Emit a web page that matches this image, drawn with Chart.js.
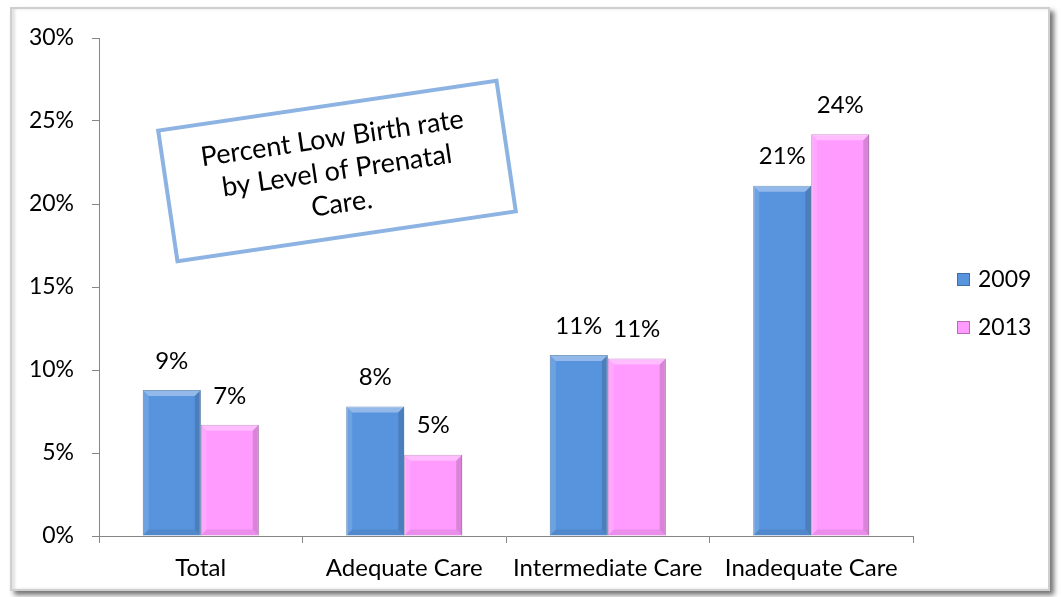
<!DOCTYPE html>
<html>
<head>
<meta charset="utf-8">
<script src="https://cdn.jsdelivr.net/npm/chart.js@4"></script>
<style>
  body { margin: 0; background: #fff; }
  #frame {
    position: absolute; left: 10px; top: 7px; width: 1036px; height: 580px;
    border: 2px solid #cfcfcf;
    box-shadow: 4px 4px 5px rgba(0,0,0,0.55), inset 3px 0 3px rgba(0,0,0,0.12);
    background: #fff;
  }
  #wrap { position: absolute; left: 0; top: 0; width: 1063px; height: 597px; }
</style>
</head>
<body>
<div id="frame"></div>
<div id="wrap"><canvas id="grafico" width="1063" height="597"></canvas></div>
<script>
// dados
const categorias = ['Total', 'Adequate Care', 'Intermediate Care', 'Inadequate Care'];
const anos = ['2009', '2013'];
const valores2009 = [8.8, 7.8, 10.9, 21.1];
const valores2013 = [6.7, 4.9, 10.7, 24.2];
const rotulos2009 = ['9%', '8%', '11%', '21%'];
const rotulos2013 = ['7%', '5%', '11%', '24%'];
const ticksY = [0, 5, 10, 15, 20, 25, 30];
const tituloCaixa = ['Percent Low Birth rate', 'by Level of Prenatal', 'Care.'];

const fonte = 'Lato, Carlito, Calibri, sans-serif';
const cores = ['#5894DE', '#FF9AFF'];
const bordas = ['#3D6FA8', '#B86AB8'];

// chanfro das barras (efeito bevel)
const pluginBevel = {
  id: 'bevel',
  afterDatasetsDraw(chart) {
    const ctx = chart.ctx;
    chart.data.datasets.forEach((ds, i) => {
      chart.getDatasetMeta(i).data.forEach(bar => {
        const l = bar.x - bar.width / 2, r = bar.x + bar.width / 2;
        const t = bar.y, b = bar.base, e = 6;
        ctx.save();
        ctx.fillStyle = 'rgba(255,255,255,0.35)';
        ctx.beginPath();
        ctx.moveTo(l, t); ctx.lineTo(r, t); ctx.lineTo(r - e, t + e); ctx.lineTo(l + e, t + e);
        ctx.closePath(); ctx.fill();
        ctx.fillStyle = 'rgba(255,255,255,0.12)';
        ctx.beginPath();
        ctx.moveTo(l, t); ctx.lineTo(l + e, t + e); ctx.lineTo(l + e, b - e); ctx.lineTo(l, b);
        ctx.closePath(); ctx.fill();
        ctx.fillStyle = 'rgba(0,0,0,0.15)';
        ctx.beginPath();
        ctx.moveTo(r, t); ctx.lineTo(r - e, t + e); ctx.lineTo(r - e, b - e); ctx.lineTo(r, b);
        ctx.closePath(); ctx.fill();
        ctx.fillStyle = 'rgba(0,0,0,0.08)';
        ctx.beginPath();
        ctx.moveTo(l, b); ctx.lineTo(l + e, b - e); ctx.lineTo(r - e, b - e); ctx.lineTo(r, b);
        ctx.closePath(); ctx.fill();
        ctx.restore();
      });
    });
  }
};

// rótulos acima das barras
const pluginRotulos = {
  id: 'rotulos',
  afterDatasetsDraw(chart) {
    const ctx = chart.ctx;
    const textos = [rotulos2009, rotulos2013];
    ctx.save();
    ctx.font = '24px ' + fonte;
    ctx.fillStyle = '#000';
    ctx.textAlign = 'center';
    ctx.textBaseline = 'middle';
    chart.data.datasets.forEach((ds, i) => {
      chart.getDatasetMeta(i).data.forEach((bar, j) => {
        ctx.fillText(textos[i][j], bar.x, bar.y - 29);
      });
    });
    ctx.restore();
  }
};

// legenda à direita
const pluginLegenda = {
  id: 'legenda',
  afterDraw(chart) {
    const ctx = chart.ctx;
    ctx.save();
    ctx.font = '23px ' + fonte;
    ctx.textBaseline = 'middle';
    chart.data.datasets.forEach((ds, i) => {
      const y = 280 + i * 48;
      ctx.fillStyle = cores[i];
      ctx.fillRect(957, y - 7, 13, 13);
      ctx.strokeStyle = bordas[i];
      ctx.lineWidth = 1;
      ctx.strokeRect(957.5, y - 6.5, 12, 12);
      ctx.fillStyle = '#000';
      ctx.fillText(ds.label, 978, y);
    });
    ctx.restore();
  }
};

// caixa de título girada
const pluginCaixa = {
  id: 'caixa',
  afterDraw(chart) {
    const ctx = chart.ctx;
    ctx.save();
    ctx.translate(337, 171);
    ctx.rotate(-8.4 * Math.PI / 180);
    ctx.strokeStyle = '#8DB3E2';
    ctx.lineWidth = 4;
    ctx.fillStyle = '#fff';
    ctx.fillRect(-171, -66, 342, 132);
    ctx.strokeRect(-171, -66, 342, 132);
    ctx.fillStyle = '#000';
    ctx.font = '27px ' + fonte;
    ctx.textAlign = 'center';
    ctx.textBaseline = 'middle';
    tituloCaixa.forEach((linha, k) => ctx.fillText(linha, 0, -33 + k * 33));
    ctx.restore();
  }
};

new Chart(document.getElementById('grafico'), {
  type: 'bar',
  data: {
    labels: categorias,
    datasets: [
      { label: anos[0], data: valores2009, backgroundColor: cores[0], borderColor: bordas[0], borderWidth: 1 },
      { label: anos[1], data: valores2013, backgroundColor: cores[1], borderColor: bordas[1], borderWidth: 1 }
    ]
  },
  options: {
    responsive: false,
    animation: false,
    devicePixelRatio: 1,
    layout: { padding: { top: 38, right: 150, left: 0, bottom: 0 } },
    datasets: { bar: { categoryPercentage: 0.57, barPercentage: 1 } },
    plugins: { legend: { display: false }, tooltip: { enabled: false } },
    scales: {
      y: {
        min: 0, max: 30,
        afterBuildTicks(scale) { scale.ticks = ticksY.map(v => ({ value: v })); },
        afterFit(scale) { scale.width = 99; },
        ticks: { callback: v => v + '%', color: '#000', font: { family: fonte, size: 23 }, padding: 18 },
        grid: { drawOnChartArea: false, tickLength: 7, color: '#868686' },
        border: { color: '#868686' }
      },
      x: {
        afterFit(scale) { scale.height = 61; },
        ticks: { color: '#000', font: { family: fonte, size: 24 }, padding: 11 },
        grid: { offset: true, drawOnChartArea: false, tickLength: 7, color: '#868686' },
        border: { color: '#868686' }
      }
    }
  },
  plugins: [pluginBevel, pluginRotulos, pluginLegenda, pluginCaixa]
});
</script>
</body>
</html>
